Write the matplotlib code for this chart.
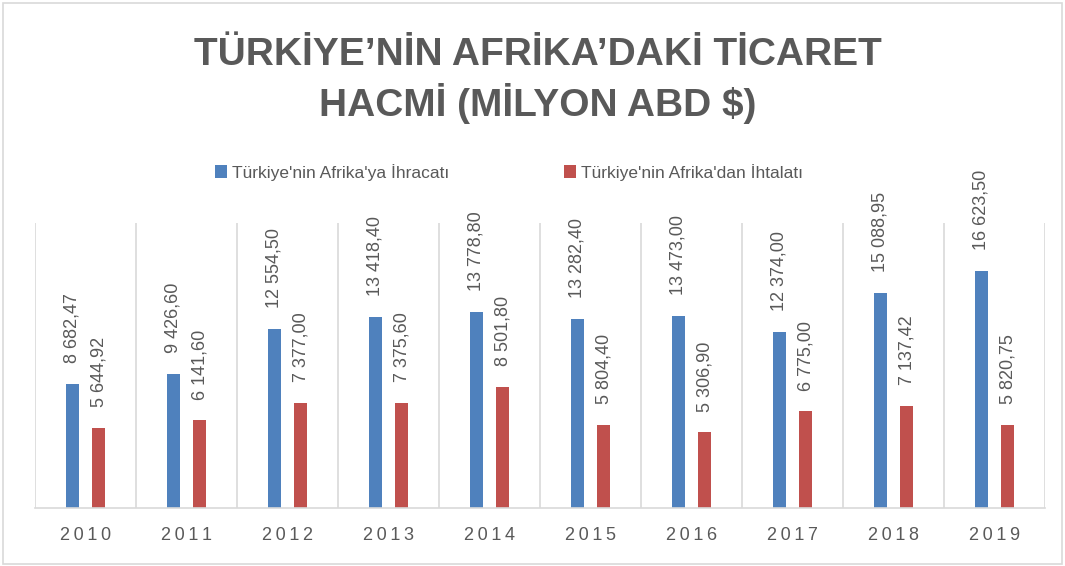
import matplotlib
matplotlib.use("Agg")
import matplotlib.pyplot as plt
from matplotlib.patches import Rectangle
import numpy as np

years = ["2010", "2011", "2012", "2013", "2014", "2015", "2016", "2017", "2018", "2019"]
exports = [8682.47, 9426.60, 12554.50, 13418.40, 13778.80, 13282.40, 13473.00, 12374.00, 15088.95, 16623.50]
imports = [5644.92, 6141.60, 7377.00, 7375.60, 8501.80, 5804.40, 5306.90, 6775.00, 7137.42, 5820.75]
series_names = ["Türkiye'nin Afrika'ya İhracatı", "Türkiye'nin Afrika'dan İhtalatı"]
title_lines = ["TÜRKİYE’NİN AFRİKA’DAKİ TİCARET", "HACMİ (MİLYON ABD $)"]

BLUE = "#4F81BD"
RED = "#C0504D"
GRAY = "#595959"
GRID = "#D9D9D9"
FONT = ["Liberation Sans", "DejaVu Sans"]
THIN = "\u2009"


def fmt(v):
    s = "{:,.2f}".format(v)
    return s.replace(",", " ").replace(".", ",")


def spaced(s):
    return THIN.join(s)


fig = plt.figure(figsize=(10.65, 5.66), dpi=100)
fig.patches.append(Rectangle((0.003, 0.004), 0.994, 0.991, transform=fig.transFigure,
                             fill=False, edgecolor=GRID, lw=1.2))

ax = fig.add_axes([0.0329, 0.1025, 0.9483, 0.5035])
x = np.arange(len(years))
w = 0.13
b1 = ax.bar(x - w, exports, w, color=BLUE, label=series_names[0])
b2 = ax.bar(x + w, imports, w, color=RED, label=series_names[1])

for bars, vals in ((b1, exports), (b2, imports)):
    for rect, v in zip(bars, vals):
        ax.annotate(fmt(v), (rect.get_x() + rect.get_width() / 2, v),
                    xytext=(0, 15), textcoords="offset points",
                    rotation=90, ha="center", va="bottom",
                    color=GRAY, fontsize=13, family=FONT)

ax.set_xlim(-0.5, len(years) - 0.5)
ax.set_ylim(0, 20000)
ax.set_yticks([])
ax.set_xticks(x)
ax.set_xticklabels([spaced(y) for y in years], color=GRAY, fontsize=13, family=FONT)
ax.set_xticks(np.arange(-0.5, len(years), 1), minor=True)
ax.tick_params(axis="x", which="both", length=0, pad=14)
ax.grid(True, which="minor", axis="x", color=GRID, lw=1.2)
for side in ("top", "left", "right"):
    ax.spines[side].set_visible(False)
ax.spines["bottom"].set_color(GRID)
ax.spines["bottom"].set_linewidth(1.2)

fig.text(0.505, 0.903, title_lines[0], ha="center", va="center",
         color=GRAY, fontsize=28, fontweight="bold", family=FONT)
fig.text(0.505, 0.818, title_lines[1], ha="center", va="center",
         color=GRAY, fontsize=28, fontweight="bold", family=FONT)

fig.legend(handles=[b1, b2], labels=series_names, loc="center", bbox_to_anchor=(0.478, 0.696),
           ncol=2, frameon=False, handlelength=0.7, handleheight=0.7, handletextpad=0.3,
           columnspacing=6.6, prop={"family": FONT, "size": 12.5}, labelcolor=GRAY)

fig.savefig("out.png", dpi=100)
